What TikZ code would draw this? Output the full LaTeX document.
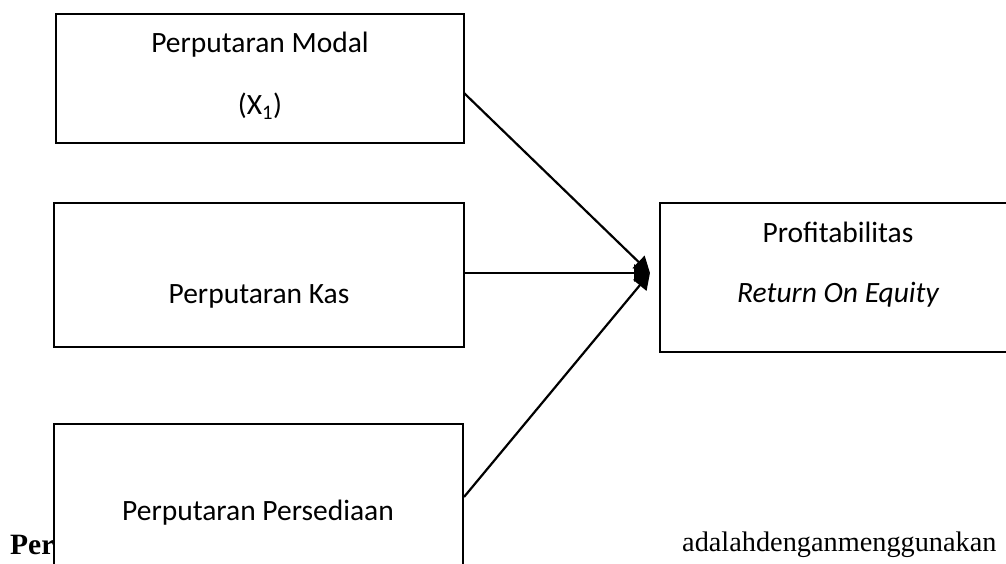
\documentclass[tikz,border=0pt]{standalone}
\usepackage{fontspec}
\setmainfont{Liberation Serif}
\newfontfamily\calib{Carlito}
\usetikzlibrary{arrows.meta}
\begin{document}
\begin{tikzpicture}[x=1pt,y=-1pt,
  box/.style={draw,line width=1.8pt,inner sep=0pt},
  lbl/.style={font=\calib\fontsize{29.5}{35}\selectfont,anchor=base,inner sep=0pt},
  conn/.style={line width=2.2pt,-{Triangle[length=16pt,width=17pt]}},
  body/.style={font=\fontsize{28.3}{34}\selectfont,anchor=base west,inner sep=0pt}]
\useasboundingbox (0,0) rectangle (1006,564);
\clip (0,0) rectangle (1006,564);
% boxes
\node[box,minimum width=408pt,minimum height=129pt] (b1) at (260,78.5) {};
\node[box,minimum width=410pt,minimum height=144pt] (b2) at (259,275) {};
\node[box,minimum width=409pt,minimum height=216pt] (b3) at (258.5,532) {};
\node[box,minimum width=356pt,minimum height=149pt] (b4) at (838,277.5) {};
% labels
\node[lbl] (t1) at (260,53) {Perputaran Modal};
\node[lbl] (t1b) at (260,115) {(X\textsubscript{1})};
\node[lbl] (t2) at (259,303) {Perputaran Kas};
\node[lbl] (t3) at (258,520) {Perputaran Persediaan};
\node[lbl] (t4) at (838,242) {Profitabilitas};
\node[lbl] (t4b) at (838,302) {\itshape Return On Equity};
% connectors
\coordinate (tip) at (650,273);
\coordinate (s1) at (464,93);
\coordinate (s3) at (464,497);
\draw[conn] (s1) -- (tip);
\draw[conn] (b2.east |- tip) -- (tip);
\draw[conn] (s3) -- (tip);
% running text
\node[body,font={\fontsize{29.5}{34}\selectfont\bfseries}] (p1) at (10,554) {Per};
\node[body] (p2) at (682,551) {adalahdenganmenggunakan};
\end{tikzpicture}
\end{document}
